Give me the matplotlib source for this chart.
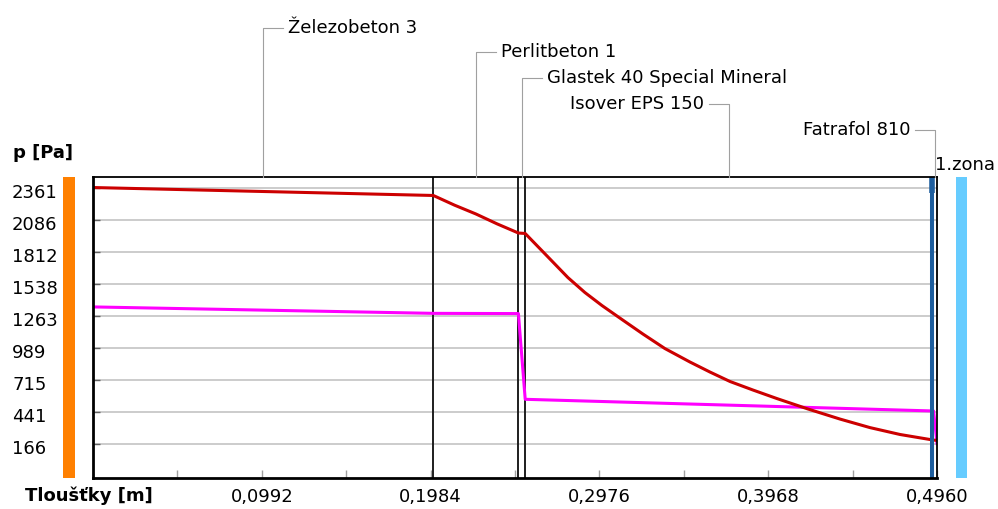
import matplotlib
matplotlib.use('Agg')
import matplotlib.pyplot as plt
from matplotlib.patches import Rectangle
from matplotlib.lines import Line2D
from matplotlib.transforms import ScaledTranslation
import numpy as np

plt.rcParams['font.family'] = ['DejaVu Sans']

# ---------------- data ----------------
layer_names = ['Železobeton 3', 'Perlitbeton 1', 'Glastek 40 Special Mineral',
               'Isover EPS 150', 'Fatrafol 810']
layer_thickness = [0.2, 0.05, 0.004, 0.24, 0.002]

# saturated vapour pressure (red)
psat_x = [0.0, 0.2, 0.2125, 0.225, 0.2375, 0.25, 0.254, 0.2674, 0.2791, 0.2891,
          0.2991, 0.3109, 0.3232, 0.3361, 0.3508, 0.3626, 0.3744, 0.3879,
          0.4020, 0.4202, 0.4390, 0.4566, 0.4743, 0.494, 0.496]
psat = [2361, 2293, 2210, 2135, 2050, 1972, 1968, 1767, 1591, 1463,
        1352, 1232, 1108, 984, 869, 783, 702, 629,
        556, 467, 381, 308, 249, 201, 199]

# partial vapour pressure (magenta)
p_x = [0.0, 0.2, 0.25, 0.254, 0.494, 0.496]
p = [1340, 1285, 1283, 550, 450, 172]

y_ticks = [166, 441, 715, 989, 1263, 1538, 1812, 2086, 2361]
x_ticks = [0.0496, 0.0992, 0.1488, 0.1984, 0.2480, 0.2976, 0.3472, 0.3968, 0.4464, 0.4960]
x_tick_labels = ['', '0,0992', '', '0,1984', '', '0,2976', '', '0,3968', '', '0,4960']
zone_label = '1.zona'
y_title = 'p [Pa]'
x_title = 'Tloušťky [m]'

# ---------------- layout ----------------
W_PX, H_PX = 998, 509
fig = plt.figure(figsize=(W_PX / 100, H_PX / 100), dpi=100)


def fx(px):
    return px / W_PX


def fy(py):
    return 1 - py / H_PX


ax_l, ax_r, ax_t, ax_b = 93, 937, 177, 478
ax = fig.add_axes([fx(ax_l), fy(ax_b), fx(ax_r) - fx(ax_l), fy(ax_t) - fy(ax_b)])

boundaries = np.cumsum([0] + layer_thickness)
ax.set_xlim(0, boundaries[-1])
ax.set_ylim(-123, 2451)

for yv in y_ticks:
    ax.axhline(yv, color='#c8c8c8', lw=1.3, zorder=1)

for b in boundaries[1:4]:
    ax.axvline(b, color='#1e1e1e', lw=1.4, zorder=2)

ax.plot(p_x, p, color='#ff00ff', lw=2.2, zorder=3)
ax.plot(psat_x, psat, color='#cc0000', lw=2.2, zorder=3)

shift_left = ax.transData + ScaledTranslation(-1.8 / 100, 0, fig.dpi_scale_trans)
blend = matplotlib.transforms.blended_transform_factory(shift_left, ax.transAxes)
ax.plot([boundaries[4], boundaries[4]], [0, 1], transform=blend,
        color='#1f5f9f', lw=2.9, zorder=4, solid_capstyle='butt')
ax.plot([boundaries[4], boundaries[4]], [1 - 16 / 301, 1], transform=blend,
        color='#1f5f9f', lw=4.0, zorder=4, solid_capstyle='butt')

ax.set_yticks(y_ticks)
ax.set_yticklabels([str(v) for v in y_ticks])
ax.tick_params(axis='y', direction='in', length=5, width=1, color='#606060',
               pad=58.3, labelsize=13)
for lab in ax.get_yticklabels():
    lab.set_horizontalalignment('left')
    lab.set_transform(lab.get_transform() + ScaledTranslation(0, -3 / 100, fig.dpi_scale_trans))

ax.set_xticks(x_ticks)
ax.set_xticklabels(x_tick_labels)
ax.tick_params(axis='x', direction='in', length=6, width=1, color='#a0a0a0',
               pad=7, labelsize=13)

for side in ['left', 'bottom']:
    ax.spines[side].set_linewidth(2.0)
    ax.spines[side].set_color('black')
for side in ['top', 'right']:
    ax.spines[side].set_linewidth(1.3)
    ax.spines[side].set_color('black')
for s in ax.spines.values():
    s.set_zorder(5)

# side colour bars
fig.add_artist(Rectangle((fx(63), fy(478)), fx(75) - fx(63), fy(177) - fy(478),
                         transform=fig.transFigure, color='#ff8000', lw=0))
fig.add_artist(Rectangle((fx(956), fy(478)), fx(967) - fx(956), fy(177) - fy(478),
                         transform=fig.transFigure, color='#66ccff', lw=0))

# titles
fig.text(fx(13), fy(153), y_title, fontsize=13, weight='bold', ha='left', va='center')
fig.text(fx(25), fy(496), x_title, fontsize=13, weight='bold', ha='left', va='center')
fig.text(fx(935), fy(165), zone_label, fontsize=13, ha='left', va='center')

# layer labels with leader lines
label_y_px = [28, 52, 78, 104, 130]
label_side = [1, 1, 1, -1, -1]
for i, name in enumerate(layer_names):
    xc = (boundaries[i] + boundaries[i + 1]) / 2
    xpx = ax.transData.transform((xc, 0))[0]
    ypx = label_y_px[i]
    s = label_side[i]
    fig.add_artist(Line2D([fx(xpx), fx(xpx), fx(xpx + s * 20)],
                          [fy(ax_t), fy(ypx), fy(ypx)],
                          transform=fig.transFigure, color='#a0a0a0', lw=0.8))
    fig.text(fx(xpx + s * 25), fy(ypx), name, fontsize=13,
             ha='left' if s > 0 else 'right', va='center')

fig.savefig('out.png', dpi=100)
